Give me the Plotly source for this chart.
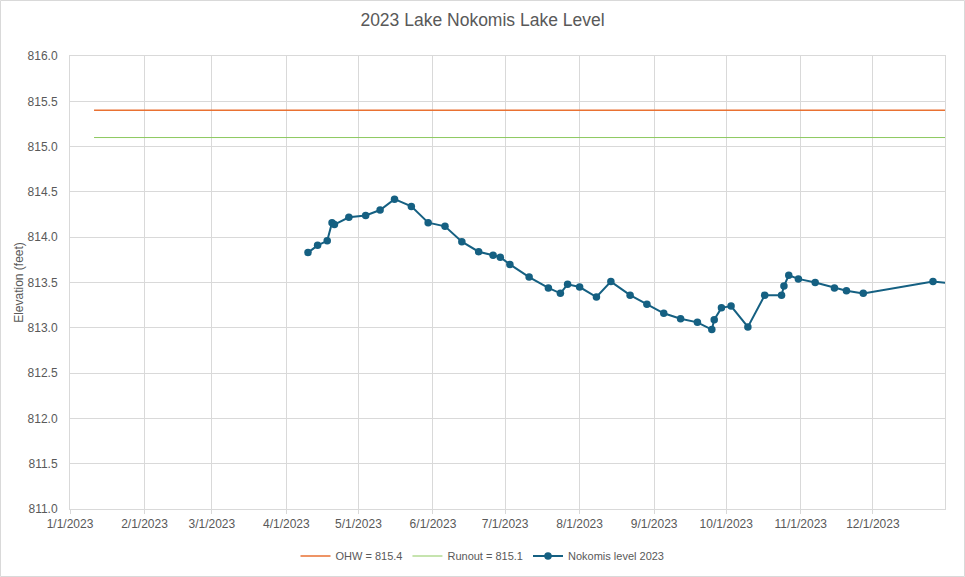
import plotly.graph_objects as go

# ---- data ----
dates = [
    "2023-04-10", "2023-04-14", "2023-04-18", "2023-04-20", "2023-04-21", "2023-04-27",
    "2023-05-04", "2023-05-10", "2023-05-16", "2023-05-23", "2023-05-30",
    "2023-06-06", "2023-06-13", "2023-06-20", "2023-06-26", "2023-06-29",
    "2023-07-03", "2023-07-11", "2023-07-19", "2023-07-24", "2023-07-27",
    "2023-08-01", "2023-08-08", "2023-08-14", "2023-08-22", "2023-08-29",
    "2023-09-05", "2023-09-12", "2023-09-19", "2023-09-25", "2023-09-26", "2023-09-29",
    "2023-10-03", "2023-10-10", "2023-10-17", "2023-10-24", "2023-10-25", "2023-10-27",
    "2023-10-31", "2023-11-07", "2023-11-15", "2023-11-20", "2023-11-27",
    "2023-12-26", "2024-01-08",
]
levels = [
    813.83, 813.91, 813.96, 814.16, 814.14, 814.22,
    814.24, 814.30, 814.42, 814.34, 814.16,
    814.12, 813.95, 813.84, 813.80, 813.78,
    813.70, 813.56, 813.44, 813.38, 813.48,
    813.45, 813.34, 813.51, 813.36, 813.26,
    813.16, 813.10, 813.06, 812.98, 813.09, 813.22,
    813.24, 813.01, 813.36, 813.36, 813.46, 813.58,
    813.54, 813.50, 813.44, 813.41, 813.38,
    813.51, 813.48,
]
ref_dates = ["2023-01-11", "2024-01-08"]
ohw_values = [815.4, 815.4]
runout_values = [815.1, 815.1]
x_ticks = ["2023-%02d-01" % m for m in range(1, 13)]

gray = "#595959"
grid = "#D9D9D9"

fig = go.Figure()
fig.add_trace(go.Scatter(
    x=ref_dates, y=ohw_values, mode="lines", name="OHW = 815.4",
    line=dict(color="#E97132", width=1.5),
))
fig.add_trace(go.Scatter(
    x=ref_dates, y=runout_values, mode="lines", name="Runout = 815.1",
    line=dict(color="#8DC95F", width=1),
))
fig.add_trace(go.Scatter(
    x=dates, y=levels, mode="lines+markers", name="Nokomis level 2023",
    line=dict(color="#156082", width=2),
    marker=dict(color="#156082", size=7.5),
))

fig.update_layout(
    width=965, height=577,
    paper_bgcolor="white", plot_bgcolor="white",
    margin=dict(l=70, r=20, t=56, b=68, autoexpand=False),
    font=dict(family="Liberation Sans, Arial, sans-serif", color=gray, size=12),
    title=dict(text="2023 Lake Nokomis Lake Level", x=0.5, xanchor="center", xref="container",
               y=1 - 20 / 577, yanchor="middle", yref="container",
               font=dict(size=17.5, color=gray)),
    showlegend=True,
    legend=dict(orientation="h", x=0.5, xanchor="center", xref="container",
                y=(577 - 556) / 577, yanchor="middle", yref="container",
                font=dict(size=11, color=gray)),
    shapes=[dict(type="rect", xref="paper", yref="paper",
                 x0=-69.5 / 875, x1=(964.5 - 70) / 875,
                 y0=-67.5 / 453, y1=1 + 55.5 / 453,
                 line=dict(color="#D9D9D9", width=1), layer="below")],
)
fig.update_xaxes(
    type="date", range=["2023-01-01", "2023-12-31"],
    tickvals=x_ticks, tickformat="%-m/%-d/%Y",
    showgrid=True, gridcolor=grid, gridwidth=1,
    showline=True, linecolor=grid, linewidth=1, mirror=True,
    ticks="outside", ticklen=4, tickcolor=grid,
    tickfont=dict(size=12, color=gray), zeroline=False,
)
fig.update_yaxes(
    range=[811, 816], dtick=0.5, tickformat=".1f",
    showgrid=True, gridcolor=grid, gridwidth=1,
    showline=True, linecolor=grid, linewidth=1, mirror=True,
    zeroline=False, ticklabelstandoff=9,
    title=dict(text="Elevation (feet)", font=dict(size=12, color=gray), standoff=1),
    tickfont=dict(size=12, color=gray),
)

fig.write_html("out.html", config={"displayModeBar": False},
               post_script="document.body.style.margin='0';")
